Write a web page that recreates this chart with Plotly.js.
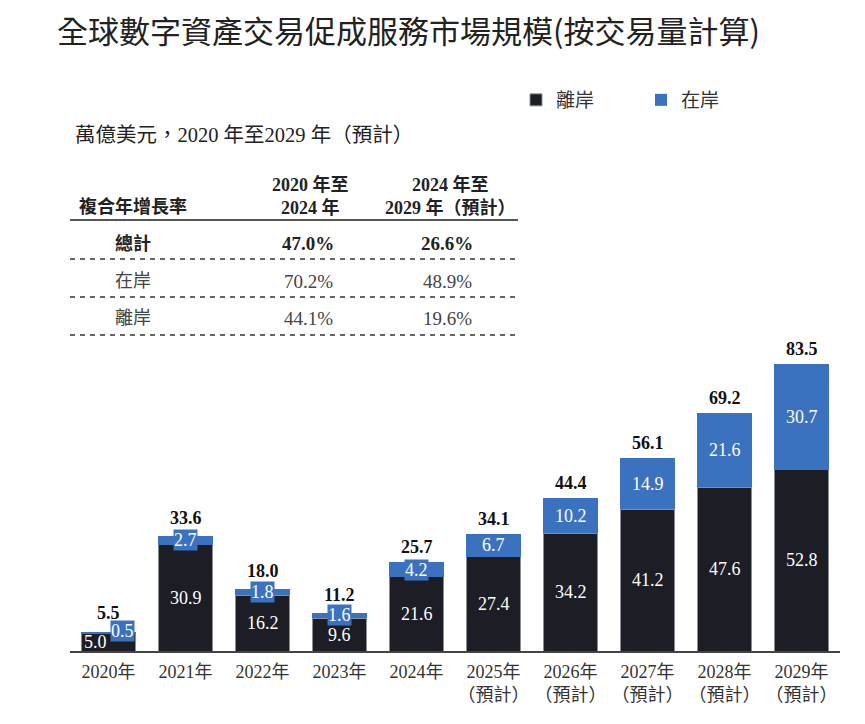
<!DOCTYPE html>
<html>
<head>
<meta charset="utf-8">
<script src="https://cdn.plot.ly/plotly-3.0.1.min.js"></script>
<style>html,body{margin:0;padding:0;background:#fff;}#chart{width:865px;height:724px;}</style>
</head>
<body>
<div id="chart"></div>
<script>
// ---- data ----
const years = ['2020年','2021年','2022年','2023年','2024年','2025年','2026年','2027年','2028年','2029年'];
const tickLabels = ['2020年','2021年','2022年','2023年','2024年',
  '2025年<br>（預計）','2026年<br>（預計）','2027年<br>（預計）','2028年<br>（預計）','2029年<br>（預計）'];
const offshore = [5.0, 30.9, 16.2, 9.6, 21.6, 27.4, 34.2, 41.2, 47.6, 52.8];
const onshore  = [0.5, 2.7, 1.8, 1.6, 4.2, 6.7, 10.2, 14.9, 21.6, 30.7];
const totals   = [5.5, 33.6, 18.0, 11.2, 25.7, 34.1, 44.4, 56.1, 69.2, 83.5];
const seriesNames = ['離岸','在岸'];
const cagrRows = ['總計','在岸','離岸'];
const cagr2020to2024 = ['47.0%','70.2%','44.1%'];
const cagr2024to2029 = ['26.6%','48.9%','19.6%'];
const cagrHeader = '複合年增長率';
const colHeader1 = '2020 年至<br>2024 年';
const colHeader2 = '2024 年至<br>2029 年（預計）';
const unitText = '萬億美元，2020 年至2029 年（預計）';
const titleText = '全球數字資產交易促成服務市場規模(按交易量計算)';

// ---- style ----
const DARK = '#1c1d25';
const BLUE = '#3b72c0';
const SERIF = 'Liberation Serif, "Noto Sans CJK TC", serif';
const SANS = '"Noto Sans CJK TC", "Noto Sans", sans-serif';
const W = 865, H = 724;
const M = {l: 70, r: 25, t: 340, b: 73, autoexpand: false};
const PW = W - M.l - M.r, PH = H - M.t - M.b;
const px = x => (x - M.l) / PW;
const py = y => (H - M.b - y) / PH;

const traces = [
  {type: 'bar', name: seriesNames[0], x: years, y: offshore,
   marker: {color: DARK, line: {color: '#8a8d96', width: 1}}, hoverinfo: 'skip'},
  {type: 'bar', name: seriesNames[1], x: years, y: onshore,
   marker: {color: BLUE, line: {width: 0}}, hoverinfo: 'skip'}
];

const ann = [];
years.forEach((c, i) => {
  ann.push({x: c, y: offshore[i] / 2, xref: 'x', yref: 'y', text: offshore[i].toFixed(1),
    showarrow: false, font: {family: SERIF, size: 18, color: '#fff'},
    xshift: i === 0 ? -13 : 0});
  ann.push({x: c, y: offshore[i] + onshore[i] / 2, xref: 'x', yref: 'y', text: onshore[i].toFixed(1),
    showarrow: false, font: {family: SERIF, size: 18, color: '#fff'},
    bgcolor: BLUE, borderpad: 0,
    xshift: i === 0 ? 14 : 0, yshift: i === 0 ? 2 : 0});
  ann.push({x: c, y: offshore[i] + onshore[i], xref: 'x', yref: 'y', text: '<b>' + totals[i].toFixed(1) + '</b>',
    showarrow: false, font: {family: SERIF, size: 18, color: '#111'},
    yanchor: 'middle', yshift: i === 0 ? 19 : (i < 4 ? 18 : 15)});
});

// table texts
ann.push({xref: 'paper', yref: 'paper', x: px(73), y: py(135), xanchor: 'left', yanchor: 'middle',
  text: unitText, showarrow: false, font: {family: SERIF, size: 20.5, color: '#222'}});
ann.push({xref: 'paper', yref: 'paper', x: px(77), y: py(206), xanchor: 'left', yanchor: 'middle',
  text: '<b>' + cagrHeader + '</b>', showarrow: false, font: {family: SERIF, size: 18, color: '#222'}});
ann.push({xref: 'paper', yref: 'paper', x: px(310), y: py(196), xanchor: 'center', yanchor: 'middle',
  text: '<b>' + colHeader1 + '</b>', showarrow: false, align: 'center', font: {family: SERIF, size: 18, color: '#222'}});
ann.push({xref: 'paper', yref: 'paper', x: px(450), y: py(196), xanchor: 'center', yanchor: 'middle',
  text: '<b>' + colHeader2 + '</b>', showarrow: false, align: 'center', font: {family: SERIF, size: 18, color: '#222'}});
const rowY = [243, 281, 318];
cagrRows.forEach((r, i) => {
  const b = i === 0;
  const w = s => b ? '<b>' + s + '</b>' : s;
  const col = b ? '#222' : '#444';
  ann.push({xref: 'paper', yref: 'paper', x: px(133), y: py(rowY[i]), xanchor: 'center', yanchor: 'middle',
    text: w(r), showarrow: false, font: {family: SERIF, size: 18, color: col}});
  ann.push({xref: 'paper', yref: 'paper', x: px(308), y: py(rowY[i]), xanchor: 'center', yanchor: 'middle',
    text: w(cagr2020to2024[i]), showarrow: false, font: {family: SERIF, size: 19, color: col}});
  ann.push({xref: 'paper', yref: 'paper', x: px(447), y: py(rowY[i]), xanchor: 'center', yanchor: 'middle',
    text: w(cagr2024to2029[i]), showarrow: false, font: {family: SERIF, size: 19, color: col}});
});

const shapes = [
  {type: 'line', xref: 'paper', yref: 'paper', x0: px(70), x1: px(518), y0: py(220), y1: py(220),
   line: {color: '#555', width: 2}}
];
[259, 297, 335].forEach(y => shapes.push({type: 'line', xref: 'paper', yref: 'paper',
  x0: px(70), x1: px(518), y0: py(y), y1: py(y), line: {color: '#666', width: 2, dash: '5px,5px'}}));

const layout = {
  width: W, height: H,
  margin: M,
  paper_bgcolor: '#fff', plot_bgcolor: '#fff',
  barmode: 'stack', bargap: 0.286,
  title: {text: titleText, x: 57 / W, xanchor: 'left', xref: 'container',
          y: 1 - 32 / H, yanchor: 'middle', yref: 'container',
          font: {family: SANS, size: 31, color: '#222'}},
  xaxis: {type: 'category', range: [-0.5, 9.5], tickvals: years, ticktext: tickLabels,
          showline: true, linecolor: '#444', linewidth: 2, ticks: '', showgrid: false, zeroline: false,
          ticklabelstandoff: 3,
          tickfont: {family: SERIF, size: 18, color: '#333'}, fixedrange: true},
  yaxis: {range: [0, PH / (287 / 83.5)], visible: false, fixedrange: true},
  showlegend: true,
  legend: {orientation: 'h', x: px(516), y: py(100), xanchor: 'left', yanchor: 'middle',
           xref: 'paper', yref: 'paper', entrywidth: 80, entrywidthmode: 'pixels',
           traceorder: 'normal', font: {family: SERIF, size: 19, color: '#333'}, bgcolor: 'rgba(0,0,0,0)'},
  annotations: ann,
  shapes: shapes
};

Plotly.newPlot('chart', traces, layout, {displayModeBar: false, staticPlot: true});
</script>
</body>
</html>
